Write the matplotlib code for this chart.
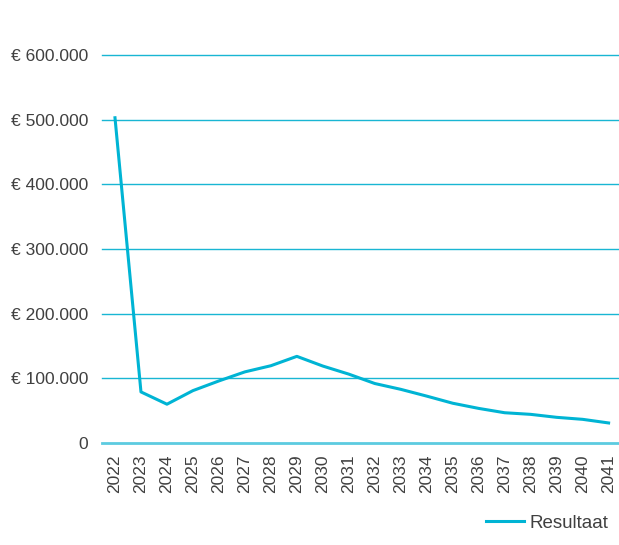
import matplotlib
matplotlib.use("Agg")
import matplotlib.pyplot as plt
from matplotlib.ticker import FuncFormatter

years = [str(y) for y in range(2022, 2042)]
resultaat = [503000, 79000, 60000, 81000, 96000, 110000, 119500, 134000, 119000, 106500,
             92000, 83000, 72500, 61500, 53500, 46800, 44300, 39700, 36600, 31000]
yticks = [0, 100000, 200000, 300000, 400000, 500000, 600000]

plt.rcParams['font.family'] = ['Liberation Sans', 'DejaVu Sans']
line_color = '#00b4d4'
grid_color = '#19b6d3'
text_color = '#404040'

fig = plt.figure(figsize=(6.19, 5.45), dpi=100)
ax = fig.add_axes([102/619, 102/545, 1 - 102/619, (391.2)/545])

x = list(range(len(years)))
ax.plot(x, resultaat, color=line_color, lw=2.2, label='Resultaat', zorder=3)

ax.set_xlim(-0.5, 19.4)
ax.set_ylim(0, 605000)
ax.set_yticks(yticks)
ax.yaxis.set_major_formatter(FuncFormatter(lambda v, p: '0' if v == 0 else '€ ' + f'{int(v):,}'.replace(',', '.')))
ax.set_xticks(x)
ax.set_xticklabels(years, rotation=90)
for yv in yticks:
    ax.axhline(yv, color=grid_color if yv else '#5ccbe0', lw=1.0 if yv else 2.0, zorder=1, clip_on=False)
for s in ax.spines.values():
    s.set_visible(False)
ax.tick_params(axis='both', length=0, colors=text_color, labelsize=12.5)
ax.tick_params(axis='y', pad=10)
ax.tick_params(axis='x', pad=8)

leg = fig.legend(handles=ax.get_lines()[:1], labels=['Resultaat'], loc='center right',
                 bbox_to_anchor=(1.01, 22/545), frameon=False, fontsize=13.5,
                 handlelength=2.0, handletextpad=0.3, labelcolor=text_color)

fig.savefig('out.png', dpi=100)
